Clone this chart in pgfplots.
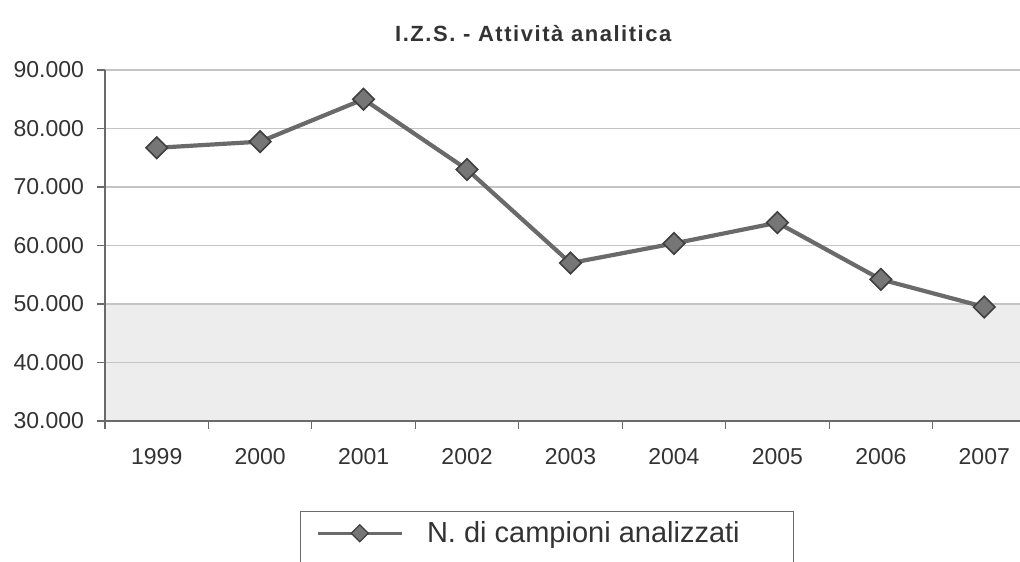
\documentclass[border=0pt]{standalone}
\usepackage{pgfplots}
\pgfplotsset{compat=1.18}
\usepackage{fontspec}
\setmainfont{Liberation Sans}
\newfontfamily\titlefont[LetterSpace=7]{Liberation Sans}

\definecolor{txt}{HTML}{333333}
\definecolor{ln}{HTML}{6A6A6A}
\definecolor{mk}{HTML}{767676}
\definecolor{mkd}{HTML}{3F3F3F}
\definecolor{grd}{HTML}{C4C4C4}
\definecolor{axc}{HTML}{6A6A6A}
\definecolor{bgshade}{HTML}{EDEDED}

\begin{document}
\begin{tikzpicture}
\begin{axis}[
  set layers, clip=false,
  at={(52.5pt,70pt)}, anchor=south west,
  scale only axis, width=465.5pt, height=175.5pt,
  xmin=-0.5, xmax=8.5,
  ymin=30000, ymax=90000,
  xtick={0,...,8},
  xticklabels={1999,2000,2001,2002,2003,2004,2005,2006,2007},
  minor xtick={-0.5,0.5,...,8.5},
  ytick={30000,40000,...,90000},
  scaled y ticks=false,
  /pgf/number format/.cd, 1000 sep={.}, assume math mode=true,
  /pgfplots/.cd,
  axis x line*=bottom, axis y line*=left,
  axis line style={axc, line width=0.8pt, -},
  tick align=outside,
  major tick length=4pt, minor tick length=4pt,
  every major x tick/.style={draw=none},
  every minor x tick/.style={axc, line width=0.6pt},
  every major y tick/.style={axc, line width=0.6pt},
  ymajorgrids=true,
  grid style={grd, line width=0.6pt},
  tick label style={font=\fontsize{11.5}{13}\selectfont, text=txt},
  xticklabel style={yshift=-6pt},
  yticklabel style={xshift=-3pt},
  title={\titlefont\bfseries I.Z.S. - Attività analitica},
  title style={at={(rel axis cs:0.46,1)}, anchor=base, yshift=8pt,
    font=\fontsize{11}{13}\selectfont, text=txt},
  legend style={at={(rel axis cs:0.2095,-0.259)}, anchor=north west,
    draw=none, fill=none,
    font=\fontsize{14.5}{16}\selectfont, text=txt,
    inner xsep=8pt, inner ysep=2.5pt},
  legend image code/.code={
    \draw[ln, line width=1.3pt, mark=square*, mark size=3pt,
      mark options={rotate=45, fill=mk, draw=mkd, line width=0.6pt},
      mark repeat=2, mark phase=2]
      plot coordinates {(0pt,0pt) (21pt,0pt) (42pt,0pt)};
  },
]
\begin{pgfonlayer}{axis background}
\fill[bgshade] (axis cs:-0.5,30000) rectangle (axis cs:8.5,50000);
\end{pgfonlayer}
% legend frame, open at the bottom where the scan is cut
\draw[axc, line width=0.5pt] (rel axis cs:0.2095,-0.45) |- (rel axis cs:0.739,-0.259) -- (rel axis cs:0.739,-0.45);

\addplot[ln, line width=2.1pt, mark=square*, mark size=3.8pt,
  mark options={rotate=45, fill=mk, draw=mkd, line width=0.8pt}]
coordinates {
(0,76700)(1,77750)(2,85000)(3,73000)(4,57000)(5,60350)(6,63900)(7,54200)(8,49500)
};
\addlegendentry{\hspace*{10pt}N. di campioni analizzati}

\end{axis}
\pgfresetboundingbox
\useasboundingbox (0,0) rectangle (510pt,280.5pt);
\end{tikzpicture}
\end{document}
